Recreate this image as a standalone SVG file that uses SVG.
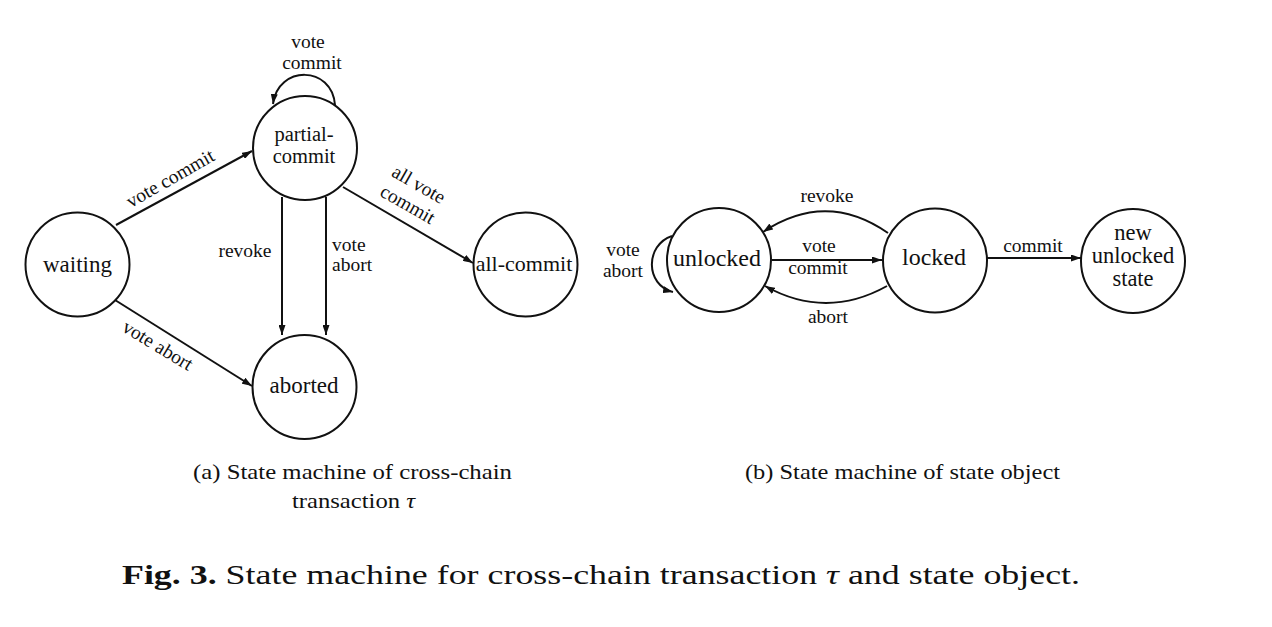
<svg xmlns="http://www.w3.org/2000/svg" width="1272" height="627" viewBox="0 0 1272 627" font-family="'Liberation Serif', 'DejaVu Serif', serif">
<style>
  .node { fill: #fff; stroke: #111; stroke-width: 2; }
  .edge { fill: none; stroke: #111; stroke-width: 2; marker-end: url(#arr); }
  text { font-family: 'Liberation Serif', 'DejaVu Serif', serif; fill: #111; }
  .nl { font-size: 23px; text-anchor: middle; }
  .nr { font-size: 24px; text-anchor: middle; }
  .el { font-size: 19.5px; text-anchor: middle; }
  .sl { font-size: 19.5px; text-anchor: start; }
  .cap { font-size: 22px; }
  .fig { font-size: 28px; }
</style>
<defs>
  <marker id="arr" viewBox="0 0 10 7" refX="10" refY="3.5" markerWidth="10" markerHeight="7" markerUnits="userSpaceOnUse" orient="auto">
    <path d="M0,0 L10,3.5 L0,7 Z" fill="#111"/>
  </marker>
</defs>
<rect width="1272" height="627" fill="#fff"/>

<g id="connectors">
  <path class="edge" d="M116,225 L252,151"/>
  <path class="edge" d="M115,300 L252,386"/>
  <path class="edge" d="M343,187 L473,263"/>
  <path class="edge" d="M282,197 L282,335"/>
  <path class="edge" d="M326,197 L326,335"/>
  <path class="edge" d="M335,105 C332,65 278,65 273,104"/>
  <path class="edge" d="M672,236 C645,245 645,285 673,292"/>
  <path class="edge" d="M772,260 L882,260"/>
  <path class="edge" d="M888,233 Q826,190 763,232"/>
  <path class="edge" d="M887,286 Q826,320 765,286"/>
  <path class="edge" d="M987,258 L1081,258"/>
</g>

<g id="edge-labels">
  <text class="el" transform="translate(170,178) rotate(-29.7)" dy="0.35em">vote commit</text>
  <text class="el" transform="translate(158,345) rotate(31.2)" dy="0.35em">vote abort</text>
  <text class="el" transform="translate(419,184) rotate(29.7)" dy="0.35em">all vote</text>
  <text class="el" transform="translate(408,204) rotate(29.7)" dy="0.35em">commit</text>
  <text class="el" x="245" y="257">revoke</text>
  <text class="sl" x="332" y="251">vote</text>
  <text class="sl" x="332" y="271">abort</text>
  <text class="el" x="308" y="48">vote</text>
  <text class="el" x="312" y="69">commit</text>
  <text class="el" x="623" y="256">vote</text>
  <text class="el" x="623" y="277">abort</text>
  <text class="el" x="827" y="202">revoke</text>
  <text class="el" x="819" y="252">vote</text>
  <text class="el" x="818" y="274">commit</text>
  <text class="el" x="828" y="323">abort</text>
  <text class="el" x="1033" y="252">commit</text>
</g>

<g id="waiting">
  <circle class="node" cx="77.5" cy="264.5" r="52"/>
  <text class="nl" x="77.5" y="272">waiting</text>
</g>
<g id="partial-commit">
  <circle class="node" cx="305" cy="148" r="52"/>
  <text class="nl" x="304" y="141" style="font-size:20.5px">partial-</text>
  <text class="nl" x="304" y="163" style="font-size:20.5px">commit</text>
</g>
<g id="aborted">
  <circle class="node" cx="304.5" cy="387" r="52"/>
  <text class="nl" x="304" y="393">aborted</text>
</g>
<g id="all-commit">
  <circle class="node" cx="525.5" cy="264.5" r="52"/>
  <text class="nl" x="524" y="271" style="font-size:22px">all-commit</text>
</g>

<g id="unlocked">
  <circle class="node" cx="719" cy="260" r="52"/>
  <text class="nr" x="717" y="266">unlocked</text>
</g>
<g id="locked">
  <circle class="node" cx="935" cy="260.5" r="52"/>
  <text class="nr" x="934" y="265">locked</text>
</g>
<g id="new-unlocked-state">
  <circle class="node" cx="1133" cy="261" r="52"/>
  <text class="nr" x="1133" y="240" style="font-size:22.5px">new</text>
  <text class="nr" x="1133" y="263" style="font-size:22.5px">unlocked</text>
  <text class="nr" x="1133" y="286" style="font-size:22.5px">state</text>
</g>

<g id="captions">
  <text class="cap" x="193" y="479" textLength="319" lengthAdjust="spacingAndGlyphs">(a) State machine of cross-chain</text>
  <text class="cap" x="292" y="508" textLength="123" lengthAdjust="spacingAndGlyphs">transaction <tspan font-style="italic">τ</tspan></text>
  <text class="cap" x="745" y="479" textLength="315" lengthAdjust="spacingAndGlyphs">(b) State machine of state object</text>
  <text class="fig" x="122" y="584" textLength="958" lengthAdjust="spacingAndGlyphs"><tspan font-weight="bold">Fig. 3.</tspan> State machine for cross-chain transaction <tspan font-style="italic">τ</tspan> and state object.</text>
</g>
</svg>
